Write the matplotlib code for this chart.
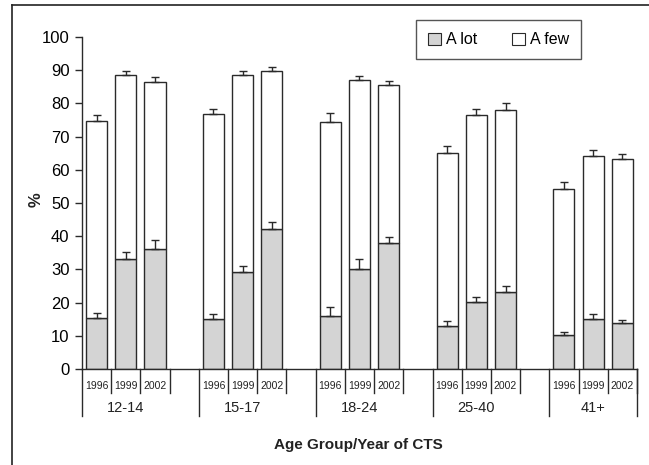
import matplotlib
matplotlib.use('Agg')
import matplotlib.pyplot as plt
import matplotlib.transforms as mtransforms
from matplotlib.patches import Patch
from matplotlib.lines import Line2D

plt.rcParams['font.family'] = ['Liberation Sans', 'DejaVu Sans']

groups = ['12-14', '15-17', '18-24', '25-40', '41+']
years = ['1996', '1999', '2002']

# percent per group, one entry per survey year
a_lot = [[15.3, 33.0, 36.1],
         [15.0, 29.2, 42.2],
         [16.1, 30.0, 38.0],
         [13.0, 20.2, 23.3],
         [10.3, 15.0, 13.8]]
a_few = [[59.3, 55.4, 50.2],
         [61.7, 59.4, 47.7],
         [58.4, 57.1, 47.5],
         [52.2, 56.3, 54.8],
         [44.0, 49.2, 49.3]]
err_lot = [[1.6, 2.1, 2.7],
           [1.7, 1.9, 2.1],
           [2.5, 3.1, 1.7],
           [1.4, 1.6, 1.6],
           [0.9, 1.5, 1.1]]
err_few = [[2.0, 1.5, 1.6],
           [1.7, 1.3, 1.1],
           [2.7, 1.1, 1.2],
           [2.1, 1.7, 2.1],
           [1.9, 1.8, 1.8]]

edge = '#2a2a2a'
grey = '#d4d4d4'

fig = plt.figure(figsize=(6.49, 4.65), dpi=100)
ax = fig.add_axes([0.1263, 0.2065, 0.8552, 0.7140])

slot = 4  # 3 bars + 1 empty slot per group
xs, lot, few, elot, efew = [], [], [], [], []
for g in range(len(groups)):
    for y in range(len(years)):
        xs.append(g * slot + y)
        lot.append(a_lot[g][y])
        few.append(a_few[g][y])
        elot.append(err_lot[g][y])
        efew.append(err_few[g][y])
tot = [l + f for l, f in zip(lot, few)]

w = 0.72
ax.bar(xs, lot, w, color=grey, edgecolor=edge, linewidth=1.0, zorder=2)
ax.bar(xs, few, w, bottom=lot, color='white', edgecolor=edge, linewidth=1.0, zorder=2)
ax.errorbar(xs, lot, yerr=[[0] * len(xs), elot], fmt='none', ecolor=edge,
            elinewidth=1.0, capsize=3, capthick=1.0, zorder=3)
ax.errorbar(xs, tot, yerr=[[0] * len(xs), efew], fmt='none', ecolor=edge,
            elinewidth=1.0, capsize=3, capthick=1.0, zorder=3)

ax.set_xlim(-0.5, (len(groups) - 1) * slot + 2.5)
ax.set_ylim(0, 100)
ax.set_yticks(range(0, 101, 10))
ax.tick_params(axis='y', labelsize=12, length=5, width=1, color=edge, pad=4)
ax.set_xticks([])
for s in ['top', 'right']:
    ax.spines[s].set_visible(False)
for s in ['left', 'bottom']:
    ax.spines[s].set_color(edge)
    ax.spines[s].set_linewidth(1.0)

# category axis: year labels, separators and group labels below the axis
trans = mtransforms.blended_transform_factory(ax.transData, ax.transAxes)
short, long_ = -0.072, -0.142
for g, name in enumerate(groups):
    x0 = g * slot - 0.5
    ax.add_line(Line2D([x0, x0], [0, long_], transform=trans, color=edge,
                       lw=1.0, clip_on=False))
    for y, yr in enumerate(years):
        xc = g * slot + y
        ax.add_line(Line2D([xc + 0.5, xc + 0.5], [0, short], transform=trans,
                           color=edge, lw=1.0, clip_on=False))
        ax.text(xc, -0.051, yr, transform=trans, ha='center', va='center',
                fontsize=7.5, color='#222222')
    ax.text(g * slot + 1, -0.117, name, transform=trans, ha='center',
            va='center', fontsize=10.5, color='#222222')
xe = (len(groups) - 1) * slot + 2.5
ax.add_line(Line2D([xe, xe], [0, long_], transform=trans, color=edge,
                   lw=1.0, clip_on=False))

fig.text(0.552, 0.043, 'Age Group/Year of CTS', ha='center', va='center',
         fontsize=11, fontweight='bold', color='#222222')
fig.text(0.055, 0.57, '%', ha='center', va='center', rotation=90,
         fontsize=12, fontweight='bold', color='#222222')

handles = [Patch(facecolor=grey, edgecolor=edge, lw=0.8),
           Patch(facecolor='white', edgecolor=edge, lw=0.8)]
leg = ax.legend(handles, ['A lot', 'A few'], ncol=2, loc='center',
                bbox_to_anchor=(0.751, 0.991), fontsize=11.5, frameon=True,
                fancybox=False, edgecolor=edge, handlelength=0.8,
                handleheight=0.8, handletextpad=0.3, columnspacing=2.2,
                borderpad=0.75)
leg.get_frame().set_linewidth(1.0)

# outer frame on the top and left
fig.add_artist(Line2D([12 / 649, 1.0], [1 - 5 / 465, 1 - 5 / 465],
                      transform=fig.transFigure, color='#222222', lw=1.2))
fig.add_artist(Line2D([12 / 649, 12 / 649], [0.0, 1 - 5 / 465],
                      transform=fig.transFigure, color='#222222', lw=1.2))

fig.savefig('out.png', dpi=100)
